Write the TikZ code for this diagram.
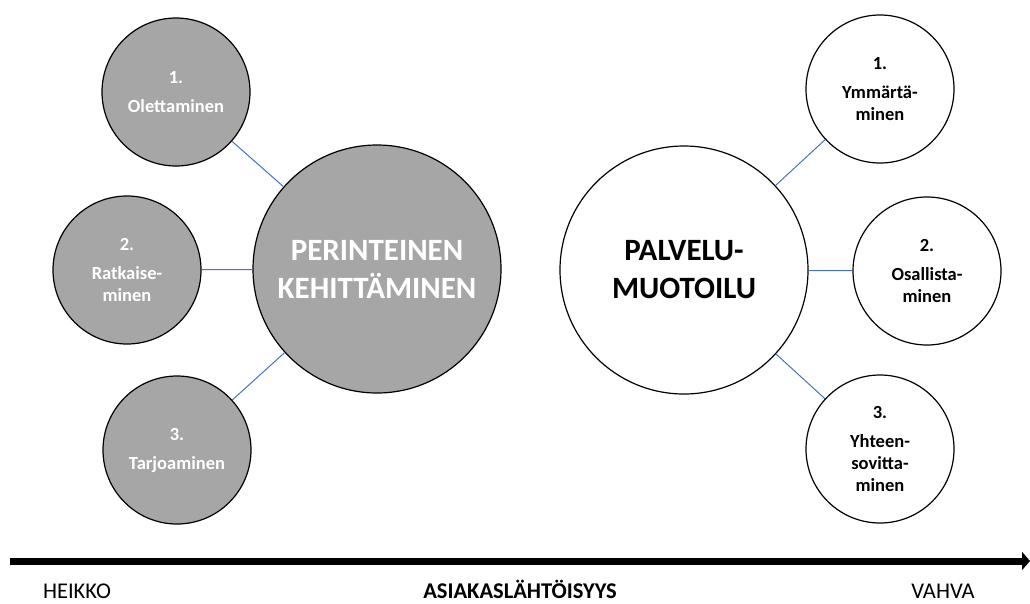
\documentclass[tikz,border=0pt]{standalone}
\usepackage{fontspec}
\setmainfont{Carlito}
\usepackage[svgnames]{xcolor}
\usepackage{tikz}
\usetikzlibrary{arrows.meta}
\definecolor{circgrey}{HTML}{A6A6A6}
\definecolor{linkblue}{HTML}{4472C4}
\tikzset{
	bigcirc/.style={circle,draw=black,line width=1.2pt,minimum size=248pt,inner sep=0pt,align=center,
		font=\fontsize{31}{38}\selectfont\bfseries},
	smallcirc/.style={circle,draw=black,line width=1.2pt,minimum size=148pt,inner sep=0pt,align=center,
		font=\fontsize{18.5}{22}\selectfont\bfseries},
	greycirc/.style={fill=circgrey,text=white},
	whitecirc/.style={fill=white,text=black},
	link/.style={draw=linkblue,line width=1pt},
	axislabel/.style={font=\fontsize{22.5}{26}\selectfont,anchor=base,inner sep=0pt}
}

\begin{document}
\begin{tikzpicture}[x=1pt,y=-1pt]
	\useasboundingbox (0,0) rectangle (1030,603);
	% left side
	\node[bigcirc,greycirc] (perint) at (377,269) {PERINTEINEN\\KEHITT\"AMINEN};
	\node[smallcirc,greycirc] (olet) at (176,92) {1.\\[7pt]Olettaminen};
	\node[smallcirc,greycirc] (ratk) at (127,270) {2.\\[7pt]Ratkaise-\\minen};
	\node[smallcirc,greycirc] (tarj) at (177,450) {3.\\[7pt]Tarjoaminen};
	% right side
	\node[bigcirc,whitecirc] (palv) at (684,270) {PALVELU-\\MUOTOILU};
	\node[smallcirc,whitecirc] (ymm) at (880,89) {1.\\[7pt]Ymm\"art\"a-\\minen};
	\node[smallcirc,whitecirc] (osal) at (927,271) {2.\\[7pt]Osallista-\\minen};
	\node[smallcirc,whitecirc] (yht) at (880,449) {3.\\[7pt]Yhteen-\\sovitta-\\minen};
	\foreach \a/\b in {olet/perint,ratk/perint,tarj/perint,palv/ymm,palv/osal,palv/yht}
		\draw[link] (\a) -- (\b);
	% axis
	\coordinate (axstart) at (10,561);
	\coordinate (axend) at (1030,561);
	\draw[line width=7pt,-{Triangle[length=8pt,width=18pt]}] (axstart) -- (axend);
	\node[axislabel] (heikko) at (77,598) {HEIKKO};
	\node[axislabel,font=\fontsize{22.5}{26}\selectfont\bfseries] (asiak) at (520,598) {ASIAKASL\"AHT\"OISYYS};
	\node[axislabel] (vahva) at (943,598) {VAHVA};
\end{tikzpicture}
\end{document}
